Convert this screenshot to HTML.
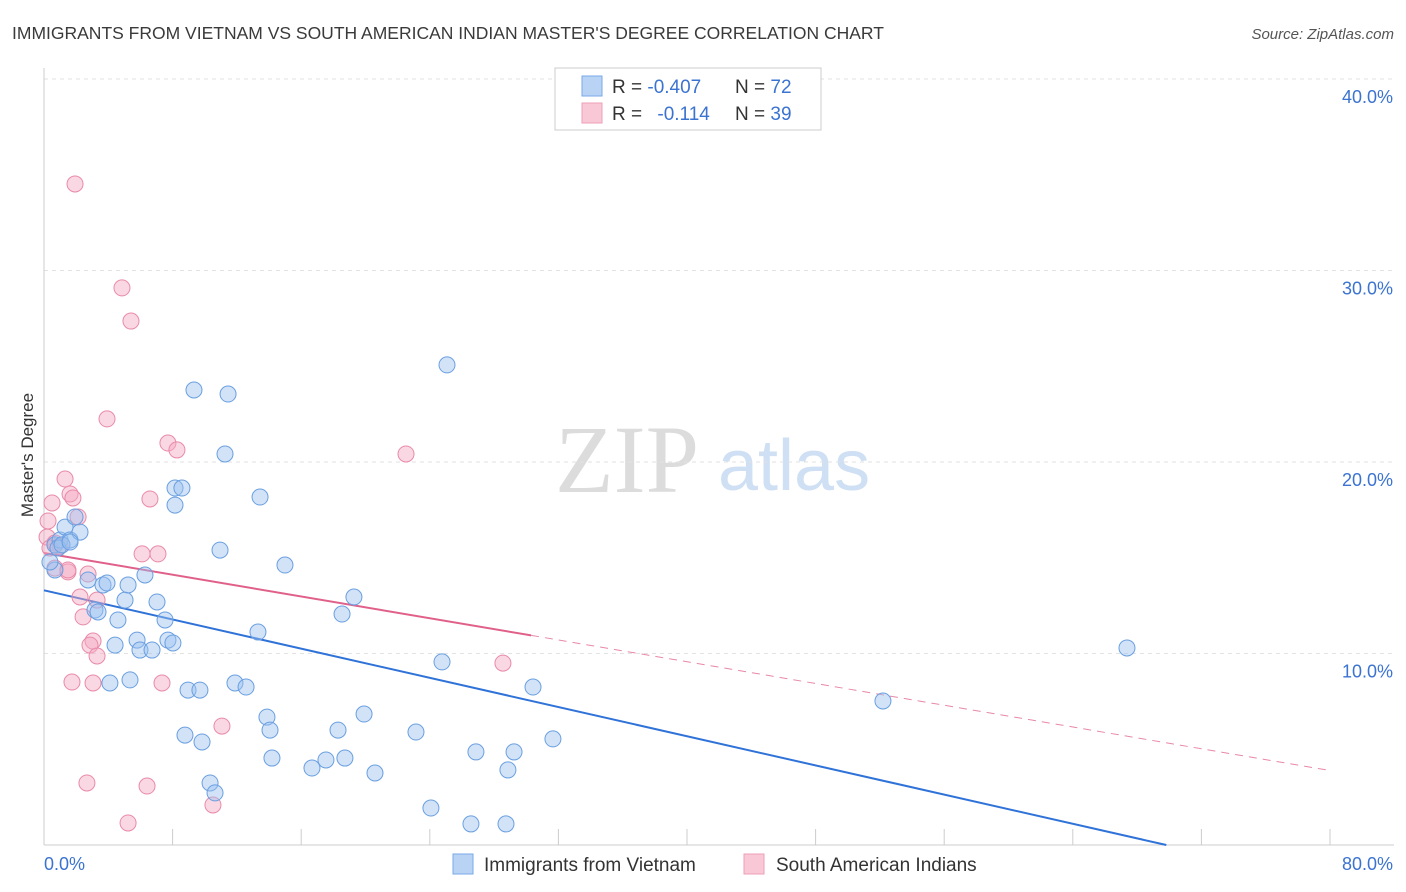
<!DOCTYPE html>
<html><head><meta charset="utf-8"><style>
body{margin:0;background:#fff;font-family:"Liberation Sans",sans-serif;}
#wrap{position:relative;width:1406px;height:892px;overflow:hidden;}
</style></head><body>
<div id="wrap">
<svg id="svg" width="1406" height="892" xmlns="http://www.w3.org/2000/svg">
<text x="12" y="39" font-size="17.5" fill="#3a3a3a">IMMIGRANTS FROM VIETNAM VS SOUTH AMERICAN INDIAN MASTER'S DEGREE CORRELATION CHART</text>
<text x="1394" y="39" font-size="15" fill="#555" font-style="italic" text-anchor="end">Source: ZipAtlas.com</text>
<text x="0" y="0" transform="translate(33,455) rotate(-90)" font-size="17" fill="#333" text-anchor="middle">Master's Degree</text>
<text x="555" y="492" font-size="96" fill="#dcdcdc" font-family="Liberation Serif,serif">ZIP</text>
<text x="718" y="490" font-size="72" fill="#cfe0f4">atlas</text>
<g id="grid"></g><g id="axes"></g><g id="lines"></g><g id="pts"></g>
<g>
<rect x="555" y="68" width="266" height="62" fill="#fff" stroke="#ccc"/>
<rect x="582" y="76" width="20" height="20" fill="#b9d3f5" stroke="#7aa8e8"/>
<rect x="582" y="103" width="20" height="20" fill="#f9c8d6" stroke="#ef9fb8"/>
<text x="612" y="93" font-size="19" fill="#333">R = <tspan fill="#3b73d1">-0.407</tspan></text>
<text x="735" y="93" font-size="19" fill="#333">N = <tspan fill="#3b73d1">72</tspan></text>
<text x="612" y="120" font-size="19" fill="#333">R = <tspan fill="#3b73d1" dx="10">-0.114</tspan></text>
<text x="735" y="120" font-size="19" fill="#333">N = <tspan fill="#3b73d1">39</tspan></text>
</g>
<g>
<rect x="453" y="854" width="20" height="20" fill="#b9d3f5" stroke="#7aa8e8"/>
<text x="484" y="871" font-size="19" fill="#333">Immigrants from Vietnam</text>
<rect x="744" y="854" width="20" height="20" fill="#f9c8d6" stroke="#ef9fb8"/>
<text x="776" y="871" font-size="19" fill="#333">South American Indians</text>
</g>
</svg>
</div>
<script>
const blueX=[0.68,1.0,1.31,1.62,2.24,1.93,0.68,2.74,3.17,3.36,3.67,3.92,4.42,4.6,5.04,5.23,5.35,4.1,5.79,6.28,5.97,6.72,7.03,7.53,7.71,8.02,8.15,8.58,8.15,9.33,11.45,11.26,10.95,8.96,9.7,8.77,9.83,10.33,10.64,11.88,12.57,13.31,13.44,13.87,14.06,14.18,14.99,16.67,17.54,18.29,18.72,19.28,18.54,19.91,20.59,23.14,24.07,24.76,25.07,26.56,26.87,28.74,28.86,29.24,30.42,31.66,52.19,67.37,0.37,0.87,1.12,1.62];
const blueY=[15.67,15.93,16.6,15.93,16.34,17.13,14.36,13.84,12.27,12.17,13.58,13.68,10.44,11.75,12.79,13.58,8.62,8.46,10.7,14.1,10.18,10.18,12.69,11.75,10.7,10.55,18.64,18.64,17.75,23.76,23.55,20.42,15.4,8.09,8.09,5.74,5.38,3.24,2.72,8.46,8.25,11.12,18.17,6.68,6.0,4.54,14.62,4.02,4.44,6.0,4.54,12.95,12.06,6.84,3.76,5.9,1.93,9.56,25.07,1.1,4.86,1.1,3.92,4.86,8.25,5.54,7.52,10.29,14.78,15.51,15.67,15.82];
const pinkX=[1.93,4.85,5.41,3.92,7.71,8.27,22.52,1.31,1.62,1.8,6.59,0.5,2.12,0.25,0.19,0.68,1.0,0.37,6.1,7.09,1.49,2.74,2.24,3.3,2.43,3.05,2.86,3.3,1.74,3.05,7.34,11.07,2.67,6.41,10.51,5.23,28.55,0.68,1.49];
const pinkY=[34.52,29.09,27.36,22.25,20.99,20.63,20.42,19.11,18.33,18.12,18.07,17.86,17.13,16.92,16.08,15.77,15.61,15.51,15.2,15.2,14.26,14.15,12.95,12.79,11.91,10.65,10.44,9.87,8.51,8.46,8.46,6.21,3.24,3.08,2.09,1.15,9.5,14.46,14.36];
const blueTrend=[13.3,-0.1905];
const pinkTrend=[15.25,-0.142];
const yTicks=[10,20,30,40];
const yTickLabels=["10.0%","20.0%","30.0%","40.0%"];
const xTicks=[0,8,16,24,32,40,48,56,64,72,80];
const NS="http://www.w3.org/2000/svg";
const X=v=>44+v*16.075, Y=v=>845-v*19.15;
function mk(parent,tag,attrs){const e=document.createElementNS(NS,tag);for(const k in attrs)e.setAttribute(k,attrs[k]);document.getElementById(parent).appendChild(e);return e;}
yTicks.forEach((t,i)=>{
 const l=mk('grid','line',{x1:44,x2:1394,y1:Y(t),y2:Y(t),stroke:'#e2e2e2','stroke-dasharray':'4,4'});
 
 
 const tx=mk('axes','text',{x:1393,y:Y(t)+24,'font-size':18,fill:'#3b73d1','text-anchor':'end'});
 tx.textContent=yTickLabels[i];
 
 
});
const tg=mk('grid','line',{x1:44,x2:1394,y1:Y(40),y2:Y(40),stroke:'#e2e2e2','stroke-dasharray':'4,4'});
mk('axes','line',{x1:44,x2:44,y1:68,y2:845,stroke:'#ccc'});
mk('axes','line',{x1:44,x2:1394,y1:845,y2:845,stroke:'#ccc'});
xTicks.forEach(t=>{const l=mk('axes','line',{x1:X(t),x2:X(t),y1:829,y2:845,stroke:'#ccc'});
 
 });
let a=mk('axes','text',{x:44,y:870,'font-size':18,fill:'#3b73d1'});a.textContent='0.0%';


a=mk('axes','text',{x:1393,y:870,'font-size':18,fill:'#3b73d1','text-anchor':'end'});a.textContent='80.0%';


function dots(xs,ys,fill,stroke,name){xs.forEach((x,i)=>{const c=mk('pts','circle',{cx:X(x),cy:Y(ys[i]),r:8,fill:fill,'fill-opacity':0.45,stroke:stroke,'stroke-width':1});
 
 });}
dots(pinkX,pinkY,'#f4a9c0','#e98aa8','point-south-american-indian');
dots(blueX,blueY,'#9cc2f0','#6a9fe0','point-vietnam');
const bx2=-blueTrend[0]/blueTrend[1];
let ln=mk('lines','line',{x1:X(0),y1:Y(blueTrend[0]),x2:X(bx2),y2:Y(0),stroke:'#2f72d8','stroke-width':2});


ln=mk('lines','line',{x1:X(0),y1:Y(pinkTrend[0]),x2:X(30.3),y2:Y(pinkTrend[0]+pinkTrend[1]*30.3),stroke:'#e0608a','stroke-width':2});


ln=mk('lines','line',{x1:X(30.3),y1:Y(pinkTrend[0]+pinkTrend[1]*30.3),x2:X(80),y2:Y(pinkTrend[0]+pinkTrend[1]*80),stroke:'#e888a6','stroke-width':1,'stroke-dasharray':'8,6'});


</script>
</body></html>
